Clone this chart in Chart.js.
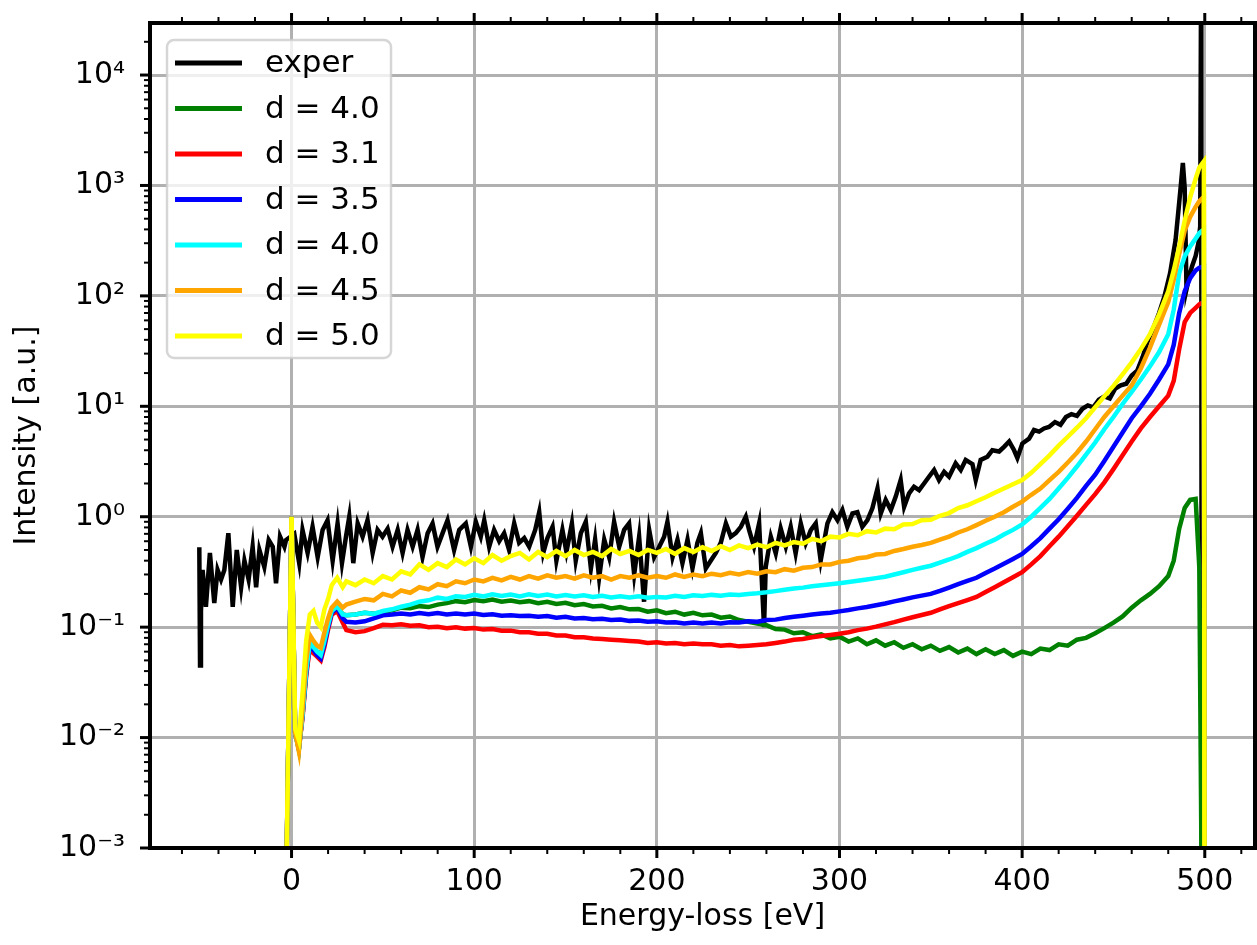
<!DOCTYPE html>
<html>
<head>
<meta charset="utf-8">
<script src="https://cdn.jsdelivr.net/npm/chart.js@4.4.1/dist/chart.umd.min.js"></script>
<style>
  html, body { margin: 0; padding: 0; background: #fff; }
</style>
</head>
<body>
<canvas id="grafico" width="1257" height="945"></canvas>
<script>
/* =========================
   DATOS - espectros EELS
========================= */

const FUENTE = "'DejaVu Sans', sans-serif";

// Rejilla de energía común a las simulaciones (eV)
const simEnergy = [
  -3, -2.6, 0, 2, 4, 6, 8, 10, 12, 14, 16, 18, 20, 22, 25, 28,
  30, 35, 40, 45, 50, 55, 60, 65, 70, 75,
  80, 85, 90, 95, 100, 105, 110, 115, 120, 125,
  130, 135, 140, 145, 150, 155, 160, 165, 170, 175,
  180, 185, 190, 195, 200, 205, 210, 215, 220, 225,
  230, 235, 240, 245, 250, 255, 260, 265, 270, 275,
  280, 285, 290, 295, 300, 305, 310, 315, 320, 325,
  330, 335, 340, 345, 350, 355, 360, 365, 370, 375,
  380, 385, 390, 395, 400, 405, 410, 415, 420, 425,
  430, 435, 440, 445, 450, 455, 460, 465, 470, 475,
  480, 483, 486, 489, 492, 495, 497, 499.5, 500
];

// d = 4.0 (verde)
const simGreen = [
  1e-6, 1e-3, 1, 0.011, 0.0078, 0.016, 0.04, 0.072, 0.066, 0.06, 0.056, 0.075, 0.105, 0.14, 0.155, 0.13,
  0.128, 0.13, 0.135, 0.132, 0.138, 0.142, 0.15, 0.148, 0.155, 0.152,
  0.16, 0.165, 0.172, 0.168, 0.176, 0.172, 0.178, 0.17, 0.174, 0.168,
  0.172, 0.165, 0.17, 0.162, 0.166, 0.158, 0.162, 0.154, 0.156, 0.148,
  0.152, 0.145, 0.146, 0.138, 0.142, 0.134, 0.138, 0.13, 0.135, 0.128,
  0.13, 0.122, 0.125, 0.116, 0.112, 0.108, 0.104, 0.096, 0.095, 0.088,
  0.09, 0.083, 0.086, 0.079, 0.082, 0.074, 0.079, 0.07, 0.076, 0.068,
  0.073, 0.065, 0.07, 0.063, 0.068, 0.061, 0.066, 0.059, 0.064, 0.057,
  0.063, 0.057, 0.062, 0.055, 0.06, 0.057, 0.064, 0.062, 0.07, 0.068,
  0.077, 0.08, 0.088, 0.098, 0.11, 0.125, 0.15, 0.175, 0.2, 0.235,
  0.29, 0.4, 0.78, 1.2, 1.42, 1.45, 0.35, 1e-6, 1e-6
];

// d = 3.1 (rojo)
const simRed = [
  1e-6, 1e-3, 1, 0.011, 0.008, 0.015, 0.036, 0.065, 0.058, 0.054, 0.05, 0.066, 0.095, 0.13, 0.14, 0.11,
  0.094, 0.09, 0.092, 0.098, 0.105, 0.104, 0.106, 0.103, 0.104, 0.1,
  0.101, 0.098, 0.1, 0.097, 0.098, 0.095, 0.096, 0.093, 0.093, 0.09,
  0.09, 0.087, 0.087, 0.084, 0.084, 0.081, 0.081, 0.079, 0.078, 0.077,
  0.076, 0.075, 0.074, 0.072, 0.073, 0.071, 0.072, 0.07, 0.071, 0.07,
  0.07, 0.068, 0.069, 0.067, 0.068, 0.069, 0.07, 0.072, 0.074, 0.077,
  0.078, 0.081, 0.083, 0.085, 0.087, 0.09, 0.094, 0.097, 0.101, 0.106,
  0.111, 0.117, 0.123, 0.129, 0.135, 0.145, 0.155, 0.165, 0.176, 0.188,
  0.208, 0.23, 0.255, 0.283, 0.315, 0.37, 0.44, 0.54, 0.66, 0.82,
  1.02, 1.28, 1.6, 2.05, 2.7, 3.6, 4.8, 6.3, 8.0, 10,
  12.5, 17, 33, 58, 70, 78, 84, 88, 1e-6
];

// d = 3.5 (azul)
const simBlue = [
  1e-6, 1e-3, 1, 0.011, 0.008, 0.016, 0.038, 0.07, 0.062, 0.056, 0.052, 0.07, 0.1, 0.135, 0.15, 0.12,
  0.112, 0.11, 0.113, 0.12, 0.128, 0.13, 0.133, 0.13, 0.134, 0.131,
  0.134, 0.13, 0.133, 0.13, 0.133, 0.129, 0.131, 0.127, 0.128, 0.126,
  0.127, 0.124, 0.126, 0.122, 0.124, 0.12, 0.121, 0.118, 0.119, 0.116,
  0.117, 0.114, 0.115, 0.112, 0.113, 0.11, 0.111, 0.108, 0.11, 0.108,
  0.11, 0.108, 0.111, 0.11, 0.113, 0.112, 0.116, 0.117, 0.121, 0.124,
  0.127, 0.13, 0.133, 0.135, 0.139, 0.143, 0.148, 0.152, 0.158, 0.164,
  0.171, 0.178, 0.186, 0.193, 0.2, 0.213, 0.228, 0.245, 0.262, 0.28,
  0.31, 0.34, 0.375, 0.415, 0.46, 0.54, 0.64, 0.78, 0.95, 1.18,
  1.48, 1.9, 2.4, 3.2, 4.3, 5.8, 7.8, 10, 13, 17.5,
  24, 36, 70, 110, 145, 170, 180, 185, 1e-6
];

// d = 4.0 (cian)
const simCyan = [
  1e-6, 1e-3, 1, 0.011, 0.0078, 0.016, 0.04, 0.072, 0.066, 0.06, 0.056, 0.075, 0.105, 0.14, 0.155, 0.13,
  0.128, 0.13, 0.135, 0.132, 0.14, 0.145, 0.153, 0.16, 0.17, 0.175,
  0.185, 0.18, 0.19, 0.188, 0.196, 0.19, 0.198, 0.192, 0.197, 0.19,
  0.198, 0.192, 0.197, 0.19, 0.195, 0.19, 0.194, 0.188, 0.192, 0.186,
  0.19, 0.186, 0.19, 0.185, 0.188, 0.186, 0.192, 0.188, 0.194, 0.192,
  0.196, 0.193, 0.198, 0.196, 0.2, 0.203, 0.207, 0.212, 0.218, 0.224,
  0.228, 0.235, 0.24, 0.245, 0.25, 0.256, 0.263, 0.27, 0.278, 0.286,
  0.3, 0.314, 0.33, 0.345, 0.36, 0.385, 0.41, 0.44, 0.48, 0.52,
  0.57, 0.62, 0.69, 0.76, 0.85, 1.0, 1.2, 1.45, 1.8, 2.25,
  2.85, 3.65, 4.7, 6.2, 8.0, 10.5, 13.5, 17.5, 23, 31,
  45, 75, 160, 228, 280, 330, 370, 400, 1e-6
];

// d = 4.5 (naranja)
const simOrange = [
  1e-6, 1e-3, 1, 0.011, 0.0075, 0.018, 0.05, 0.085, 0.075, 0.068, 0.065, 0.09, 0.12, 0.15, 0.17, 0.15,
  0.16, 0.17, 0.18, 0.175, 0.2, 0.19, 0.215, 0.205, 0.23, 0.22,
  0.245, 0.235, 0.26, 0.25, 0.27, 0.26, 0.28, 0.265, 0.285, 0.27,
  0.29, 0.275, 0.295, 0.28, 0.29, 0.275, 0.295, 0.28, 0.29, 0.27,
  0.29, 0.28, 0.295, 0.28, 0.29, 0.28, 0.3, 0.285, 0.3, 0.29,
  0.305, 0.295, 0.31, 0.3, 0.315, 0.305, 0.32, 0.315, 0.335, 0.325,
  0.345, 0.35, 0.37, 0.37, 0.39, 0.4, 0.42, 0.43, 0.455, 0.46,
  0.49, 0.51, 0.535, 0.555, 0.58, 0.62, 0.66, 0.72, 0.77, 0.84,
  0.92, 1.0, 1.1, 1.23, 1.37, 1.58, 1.8, 2.15, 2.55, 3.1,
  3.8, 4.8, 6.2, 8.0, 10, 12.5, 15.5, 22, 34, 55,
  88, 140, 240, 390, 520, 640, 720, 790, 1e-6
];

// d = 5.0 (amarillo)
const simYellow = [
  1e-6, 1e-3, 1, 0.012, 0.0095, 0.025, 0.075, 0.13, 0.14, 0.11, 0.1, 0.145, 0.18, 0.24, 0.28, 0.23,
  0.26, 0.24, 0.27, 0.25, 0.29, 0.27, 0.32, 0.3, 0.37, 0.33,
  0.38, 0.35, 0.41, 0.37, 0.42, 0.38, 0.45, 0.4, 0.44, 0.47,
  0.41, 0.48, 0.43, 0.49, 0.44, 0.5, 0.45, 0.48, 0.44, 0.51,
  0.46, 0.49, 0.45, 0.5, 0.47, 0.51, 0.46, 0.52, 0.48, 0.53,
  0.49, 0.54, 0.5, 0.55, 0.52, 0.56, 0.53, 0.58, 0.55, 0.59,
  0.57, 0.63, 0.6, 0.66, 0.65, 0.7, 0.68, 0.74, 0.72, 0.78,
  0.77, 0.85, 0.86, 0.93, 0.94, 1.02, 1.08, 1.2, 1.27, 1.38,
  1.5, 1.65, 1.8, 1.97, 2.15, 2.5, 3.0, 3.6, 4.4, 5.3,
  6.4, 7.8, 9.8, 12.3, 15.3, 19.5, 25, 33, 45, 68,
  110, 170, 280, 480, 780, 1150, 1450, 1650, 1e-6
];

// Espectro experimental
const expEnergy = [
  -50.5, -50.1, -49.6, -48.7, -46.9, -44.7, -42.3, -40.5, -38.6, -36.8,
  -34.6, -32.2, -30, -27.6, -25.8, -23.5, -21.3, -19.4, -17.6, -14.9,
  -12.5, -10.3, -8.5, -6.3, -3.9, -3, -1, 1.5, 4.2, 6,
  8.8, 11.5, 14.3, 17, 19.7, 22.5, 25.2, 27.6, 29.8, 31.6,
  33.8, 36.2, 38.9, 41.6, 44.4, 47.1, 49.8, 52.6, 55.3, 58.1,
  60.8, 63.5, 66.3, 69, 71.7, 74.5, 77.2, 79.9, 82.7, 85.4,
  89, 91.8, 95.4, 98.2, 100.9, 103.6, 105.5, 108.2, 110.9, 113.7,
  116.4, 119.1, 121.9, 124.6, 127.4, 130.1, 133.4, 135.6, 137.8, 140.1,
  142.9, 145, 148.3, 150.5, 153.5, 155.6, 158.4, 161.1, 163.9, 166.2,
  168.4, 171.2, 173.9, 176.6, 179.4, 182.1, 184.8, 187.6, 190.3, 193,
  195.8, 198.5, 201.3, 204, 205.8, 208.6, 211.3, 214, 216.8, 219.5,
  222.2, 224.1, 226.8, 229.5, 232.3, 235, 237.8, 240.5, 243.2, 246,
  248.7, 250.5, 253.2, 256, 258.7, 259.6, 262.4, 265.1, 267.8, 270.6,
  273.3, 276, 278.8, 281.5, 284.3, 287, 289.7, 293.4, 296.1, 298.9,
  301.6, 304.3, 307.1, 309.8, 312.5, 315.3, 318, 320.8, 322.6, 325.3,
  328.1, 330.8, 333.5, 335.4, 338.1, 340.8, 343.6, 346.3, 349, 351.8,
  354.5, 357.3, 360, 363.6, 366.4, 369.1, 372.8, 374.6, 377.3, 381,
  383.7, 387.4, 390.1, 392.9, 395.6, 397.4, 400.1, 403.8, 406.5, 409.3,
  412, 414.7, 418, 421, 424, 427, 430, 433, 436, 439,
  442, 445, 448, 451, 454, 457, 460, 463, 466, 469,
  472, 475, 478, 481, 484, 486, 487, 488, 489, 490,
  491.5, 493, 495, 496.5, 497.5, 498, 498.5
];
const expIntensity = [
  0.53, 0.045, 0.14, 0.33, 0.153, 0.47, 0.165, 0.33, 0.27, 0.33,
  0.71, 0.153, 0.5, 0.23, 0.4, 0.27, 0.535, 0.23, 0.5, 0.35,
  0.615, 0.535, 0.25, 0.66, 0.535, 0.615, 0.65, 0.7, 0.38, 0.76,
  0.47, 0.81, 0.43, 0.76, 0.93, 0.4, 0.87, 0.38, 0.66, 1.0,
  0.38, 0.87, 0.66, 0.93, 0.47, 0.76, 0.66, 0.78, 0.535, 0.76,
  0.47, 0.76, 0.535, 0.76, 0.43, 0.71, 0.87, 0.535, 0.71, 0.93,
  0.5, 0.76, 0.87, 0.535, 0.9, 0.66, 0.93, 0.535, 0.76, 0.6,
  0.71, 0.5, 0.87, 0.58, 0.64, 0.535, 0.76, 1.1, 0.47, 0.64,
  0.81, 0.4, 0.76, 0.48, 0.87, 0.4, 0.71, 0.9, 0.34, 0.62,
  0.28, 0.62, 0.43, 0.9, 0.535, 0.76, 0.87, 0.3, 0.66, 0.17,
  0.76, 0.43, 0.535, 0.66, 0.9, 0.43, 0.62, 0.38, 0.62, 0.34,
  0.58, 0.71, 0.34, 0.4, 0.47, 0.58, 0.87, 0.66, 0.71, 0.81,
  1.0, 0.76, 0.535, 0.87, 0.1, 0.35, 0.66, 0.466, 0.785, 0.535,
  0.81, 0.466, 0.87, 0.574, 0.757, 0.87, 0.4, 0.87, 1.1, 0.93,
  1.15, 0.81, 1.07, 1.1, 0.81, 0.93, 1.19, 1.8, 1.07, 1.42,
  1.15, 1.52, 2.15, 1.23, 1.63, 1.87, 1.74, 2.0, 2.3, 2.65,
  2.15, 2.55, 2.3, 3.05, 2.65, 3.27, 3.0, 2.15, 3.27, 3.5,
  4.0, 3.9, 4.3, 4.8, 4.0, 3.4, 4.6, 5.1, 6.1, 5.9,
  6.3, 6.5, 7.2, 6.8, 8.0, 8.5, 8.2, 9.5, 10.2, 9.8,
  11.5, 12.3, 11.8, 14.5, 15.5, 16, 19, 21, 28, 40,
  52, 70, 100, 160, 320, 700, 1050, 1600, 950, 115,
  150, 185, 230, 300, 425, 1e5, 1e-6
];

const etiquetas = ["exper", "d = 4.0", "d = 3.1", "d = 3.5", "d = 4.0", "d = 4.5", "d = 5.0"];
const colores = ["#000000", "#008000", "#ff0000", "#0000ff", "#00ffff", "#ffa500", "#ffff00"];

// Ejes
const xTicks = [0, 100, 200, 300, 400, 500];
const yDecadas = [-3, -2, -1, 0, 1, 2, 3, 4];

/* =========================
   DATASETS
========================= */

function pares(xs, ys) {
  return xs.map((x, i) => ({ x: x, y: ys[i] }));
}

const series = [
  pares(expEnergy, expIntensity),
  pares(simEnergy, simGreen),
  pares(simEnergy, simRed),
  pares(simEnergy, simBlue),
  pares(simEnergy, simCyan),
  pares(simEnergy, simOrange),
  pares(simEnergy, simYellow)
];

const datasets = series.map((data, i) => ({
  label: etiquetas[i],
  data: data,
  borderColor: colores[i],
  backgroundColor: colores[i],
  borderWidth: 4.5,
  pointRadius: 0,
  tension: 0,
  fill: false,
  clip: 0,
  // la última serie queda encima (como en matplotlib)
  order: series.length - 1 - i
}));

const SUPER = { "-": "\u207b", "0": "\u2070", "1": "\u00b9", "2": "\u00b2", "3": "\u00b3",
  "4": "\u2074", "5": "\u2075", "6": "\u2076", "7": "\u2077", "8": "\u2078", "9": "\u2079" };

function potencia(v) {
  const p = Math.round(Math.log10(v));
  return "10" + String(p).split("").map(c => SUPER[c]).join("");
}

/* =========================
   MARCO, TICKS Y LEYENDA
========================= */

function linea(ctx, x1, y1, x2, y2) {
  ctx.beginPath();
  ctx.moveTo(x1, y1);
  ctx.lineTo(x2, y2);
  ctx.stroke();
}

const marco = {
  id: "marco",
  afterDatasetsDraw(chart) {
    const { ctx, chartArea: a, scales } = chart;
    const sx = scales.x, sy = scales.y;
    ctx.save();
    ctx.strokeStyle = "#000";
    ctx.lineCap = "butt";

    // ticks menores en x (cada 20 eV), abajo y arriba
    ctx.lineWidth = 2;
    for (let v = -60; v <= 520; v += 20) {
      if (v % 100 === 0) continue;
      const px = sx.getPixelForValue(v);
      linea(ctx, px, a.bottom, px, a.bottom + 6);
      linea(ctx, px, a.top, px, a.top - 6);
    }
    ctx.lineWidth = 3;
    xTicks.forEach(v => {
      const px = sx.getPixelForValue(v);
      linea(ctx, px, a.bottom, px, a.bottom + 10);
      linea(ctx, px, a.top, px, a.top - 10);
    });

    // ticks en y (log)
    yDecadas.forEach(p => {
      const base = Math.pow(10, p);
      ctx.lineWidth = 3;
      const py = sy.getPixelForValue(base);
      linea(ctx, a.left - 10, py, a.left, py);
      ctx.lineWidth = 2;
      for (let m = 2; m <= 9; m++) {
        const v = m * base;
        if (v > sy.max) break;
        const pm = sy.getPixelForValue(v);
        linea(ctx, a.left - 6, pm, a.left, pm);
      }
    });

    // spines
    ctx.lineWidth = 4;
    ctx.strokeRect(a.left, a.top, a.right - a.left, a.bottom - a.top);
    ctx.restore();
  },
  afterDraw(chart) {
    const { ctx, chartArea: a } = chart;
    const bx = a.left + 17, by = a.top + 17, bw = 224, bh = 318;
    ctx.save();
    ctx.fillStyle = "rgba(255,255,255,0.8)";
    ctx.strokeStyle = "rgba(204,204,204,0.8)";
    ctx.lineWidth = 2.5;
    ctx.beginPath();
    ctx.roundRect(bx, by, bw, bh, 7);
    ctx.fill();
    ctx.stroke();

    ctx.font = "31px " + FUENTE;
    ctx.textBaseline = "middle";
    ctx.textAlign = "left";
    etiquetas.forEach((txt, i) => {
      const y = by + 23 + i * 45.5;
      ctx.strokeStyle = colores[i];
      ctx.lineWidth = 5;
      linea(ctx, bx + 8, y, bx + 75, y);
      ctx.fillStyle = "#000";
      ctx.fillText(txt, bx + 98, y + 1);
    });
    ctx.restore();
  }
};

/* =========================
   GRÁFICO
========================= */

const fuenteEjes = { family: FUENTE, size: 30 };

function sinRelleno(s) {
  s.paddingTop = 0;
  s.paddingBottom = 0;
  s.paddingLeft = 0;
  s.paddingRight = 0;
}

new Chart(document.getElementById("grafico"), {
  type: "line",
  data: { datasets },
  options: {
    responsive: false,
    animation: false,
    events: [],
    layout: { padding: { left: 0, right: 2, top: 23, bottom: 0 } },
    plugins: {
      legend: { display: false },
      tooltip: { enabled: false }
    },
    scales: {
      x: {
        type: "linear",
        min: -77.5,
        max: 527.5,
        afterBuildTicks: s => { s.ticks = xTicks.map(v => ({ value: v })); },
        afterFit: s => { s.height = 97; sinRelleno(s); },
        ticks: {
          font: fuenteEjes, color: "#000", padding: 16,
          maxRotation: 0, autoSkip: false,
          callback: v => String(v)
        },
        grid: { color: "#b0b0b0", lineWidth: 3, drawTicks: false },
        border: { display: false },
        title: {
          display: true, text: "Energy-loss [eV]", color: "#000",
          font: fuenteEjes, padding: { top: 10, bottom: 10 }
        }
      },
      y: {
        type: "logarithmic",
        min: 1e-3,
        max: 29600,
        afterBuildTicks: s => { s.ticks = yDecadas.map(p => ({ value: Math.pow(10, p) })); },
        afterFit: s => { s.width = 150; sinRelleno(s); },
        ticks: {
          font: fuenteEjes, color: "#000", padding: 25,
          autoSkip: false,
          callback: v => potencia(v)
        },
        grid: { color: "#b0b0b0", lineWidth: 3, drawTicks: false },
        border: { display: false },
        title: {
          display: true, text: "Intensity [a.u.]", color: "#000",
          font: fuenteEjes, padding: { top: 9, bottom: 9 }
        }
      }
    }
  },
  plugins: [marco]
});
</script>
</body>
</html>
